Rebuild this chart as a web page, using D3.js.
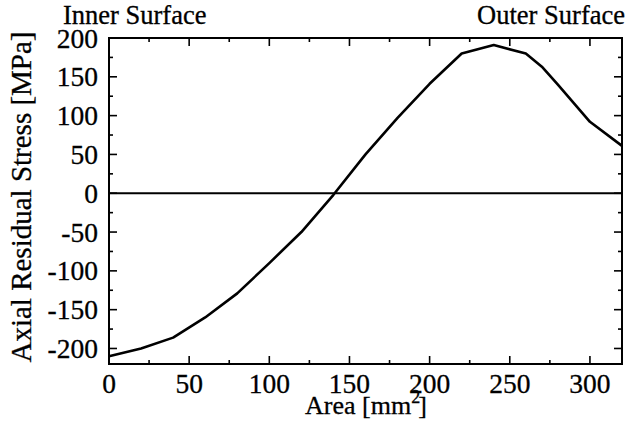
<!DOCTYPE html>
<html>
<head>
<meta charset="utf-8">
<script src="https://cdn.jsdelivr.net/npm/d3@7"></script>
<style>
  body { margin: 0; background: #fff; }
  svg { display: block; }
</style>
</head>
<body>
<svg id="chart" width="627" height="431"></svg>
<script>
// 読み取った曲線の値
const areas = [0, 20, 40, 60, 80, 100, 120, 140, 160, 180, 200, 220, 240, 260, 270, 280, 300, 320];
const stress = [-210, -200, -186, -160, -129, -90, -50, -2, 50, 97, 141, 180, 191, 180, 163, 140, 92, 61];

const xTicks = [0, 50, 100, 150, 200, 250, 300];
const yTicks = [-200, -150, -100, -50, 0, 50, 100, 150, 200];

const width = 627;
const height = 431;
const margin = { top: 38, right: 5, bottom: 67, left: 109 };
const serif = "'Liberation Serif', 'Times New Roman', serif";

const svg = d3.select("#chart");

const x = d3.scaleLinear().domain([0, 320]).range([margin.left, width - margin.right]);
const y = d3.scaleLinear().domain([-220, 200]).range([height - margin.bottom, margin.top]);

const minorX = d3.range(0, 321, 25);
const minorY = d3.range(-200, 201, 25);

// 文字を追加する共通関数
function addText(sel, size) {
  return sel.append("text")
    .style("font-family", serif)
    .style("font-size", size + "px")
    .style("fill", "#000")
    .style("stroke", "#000")
    .style("stroke-width", 0.3);
}

// 枠線
svg.append("rect")
  .attr("x", x(0)).attr("y", y(200))
  .attr("width", x(320) - x(0)).attr("height", y(-220) - y(200))
  .attr("fill", "none").attr("stroke", "#000").attr("stroke-width", 2);

// 目盛り（内向き、四辺）
function tickLen(v) { return v % 50 === 0 ? 8 : 4; }
const g = svg.append("g").attr("stroke", "#000").attr("stroke-width", 1.6);
minorX.forEach(v => {
  g.append("line").attr("x1", x(v)).attr("x2", x(v)).attr("y1", y(-220)).attr("y2", y(-220) - tickLen(v));
  g.append("line").attr("x1", x(v)).attr("x2", x(v)).attr("y1", y(200)).attr("y2", y(200) + tickLen(v));
});
minorY.forEach(v => {
  g.append("line").attr("y1", y(v)).attr("y2", y(v)).attr("x1", x(0)).attr("x2", x(0) + tickLen(v));
  g.append("line").attr("y1", y(v)).attr("y2", y(v)).attr("x1", x(320)).attr("x2", x(320) - tickLen(v));
});

// 目盛りラベル
const xg = svg.append("g");
xTicks.forEach(d => {
  addText(xg, 27.5).attr("x", x(d)).attr("y", 393).attr("text-anchor", "middle").text(d);
});
const yg = svg.append("g");
yTicks.forEach(d => {
  addText(yg, 27.5).attr("x", 98).attr("y", y(d) + 9.5).attr("text-anchor", "end").text(d);
});

// ゼロ線
svg.append("line")
  .attr("x1", x(0)).attr("x2", x(320)).attr("y1", y(0)).attr("y2", y(0))
  .attr("stroke", "#000").attr("stroke-width", 1.8);

// 曲線
const line = d3.line().x((d, i) => x(areas[i])).y(d => y(d));
svg.append("path")
  .datum(stress)
  .attr("d", line)
  .attr("fill", "none").attr("stroke", "#000").attr("stroke-width", 2.6)
  .attr("stroke-linejoin", "round");

// 見出しと軸ラベル
addText(svg, 26.5).attr("x", 63).attr("y", 24).text("Inner Surface");
addText(svg, 26.5).attr("x", 625).attr("y", 24).attr("text-anchor", "end").text("Outer Surface");

const xl = addText(svg, 26).attr("x", 305).attr("y", 414);
xl.append("tspan").text("Area [mm");
xl.append("tspan").style("font-size", "18px").attr("dy", -11).text("2");
xl.append("tspan").attr("dy", 11).attr("dx", -2).text("]");

addText(svg, 29)
  .attr("transform", `translate(31, 197) rotate(-90)`)
  .attr("text-anchor", "middle")
  .text("Axial Residual Stress [MPa]");
</script>
</body>
</html>
